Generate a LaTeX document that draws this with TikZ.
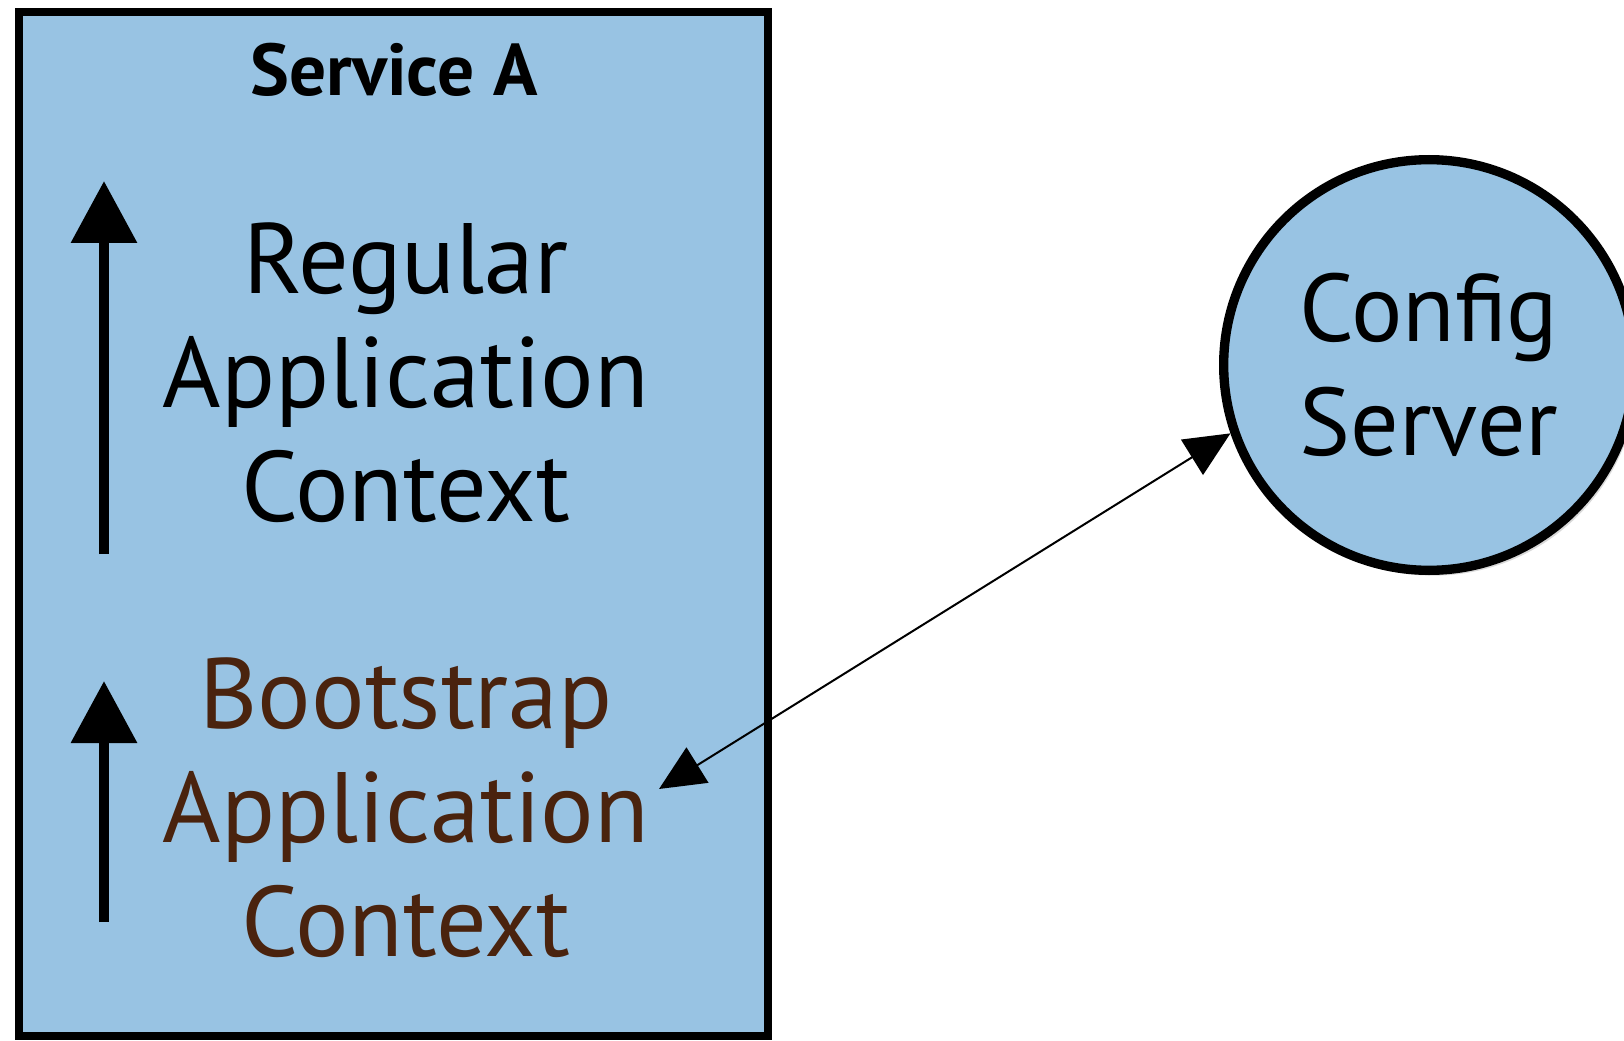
\documentclass[tikz,border=0pt]{standalone}
\usepackage{fontspec}
\setmainfont{PT Sans}
\usetikzlibrary{arrows.meta,shadows}
\definecolor{boxblue}{RGB}{152,195,227}
\definecolor{bootbrown}{RGB}{74,35,14}
\tikzset{
  svcbox/.style={draw=black,line width=5.5pt,fill=boxblue,
    drop shadow={shadow xshift=2pt,shadow yshift=-2pt,opacity=.25}},
  cfgcircle/.style={circle,draw=black,line width=7pt,fill=boxblue,minimum size=308pt,inner sep=0pt,
    align=center,font=\fontsize{72}{85.5}\selectfont,
    drop shadow={shadow xshift=3pt,shadow yshift=-4pt,opacity=.3}},
  ctxtext/.style={align=center,inner sep=0pt,font=\fontsize{75}{85.5}\selectfont},
  uparrow/.style={line width=7.5pt,-{Triangle[length=46.5pt,width=48pt]}},
  link/.style={line width=1.5pt,{Triangle[length=34pt,width=31pt]}-{Triangle[length=34pt,width=31pt]}}
}
\begin{document}
\begin{tikzpicture}[x=0.75pt,y=0.75pt,yscale=-1,xscale=1]
\useasboundingbox (0,0) rectangle (1624,1041);

%Service A box
\draw[svcbox] (19,12) rectangle (768,1036);
\node[anchor=base,inner sep=0pt,font=\fontsize{55}{60}\selectfont\bfseries] (title) at (394,96) {Service A};

%context texts
\node[ctxtext] (regular) at (406,373) {Regular\\Application\\Context};
\node[ctxtext,text=bootbrown] (bootstrap) at (406,808) {Bootstrap\\Application\\Context};

%start-up arrows
\draw[uparrow] (104,554) -- (104,181);
\draw[uparrow] (104,922) -- (104,681);

%Config Server
\node[cfgcircle] (config) at (1429,365) {Config\\Server};

%link
\coordinate (bootin) at (659,789);
\draw[link] (bootin) -- (config.199);

\end{tikzpicture}
\end{document}
